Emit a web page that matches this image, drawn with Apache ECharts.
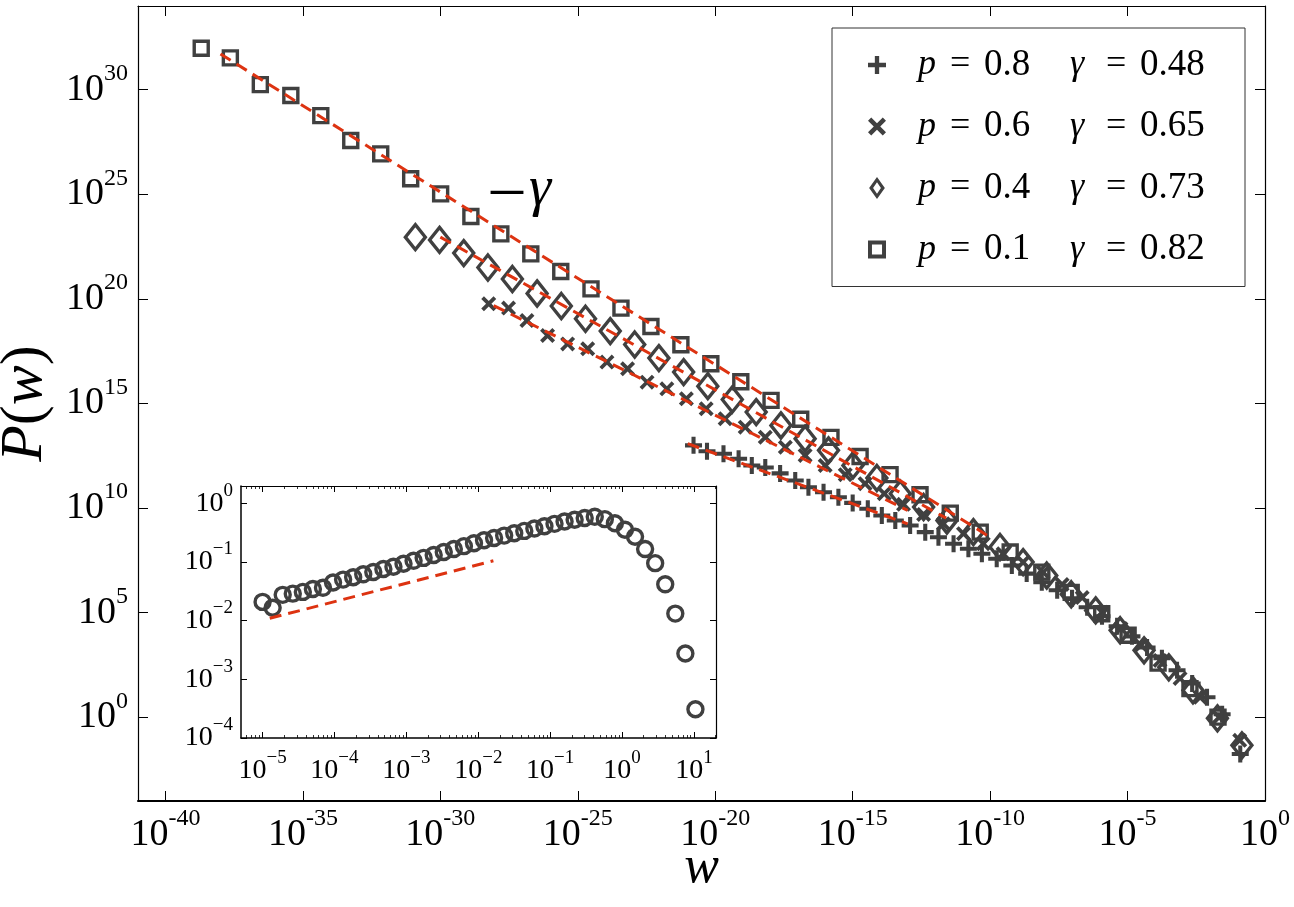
<!DOCTYPE html>
<html><head><meta charset="utf-8">
<script src="https://cdn.jsdelivr.net/npm/echarts@6/dist/echarts.min.js"></script>
<style>html,body{margin:0;padding:0;background:#fff}#c{width:1294px;height:907px}</style>
</head><body><div id="c"></div>
<script>
// ---- data (log10 of w and of P(w)) ----
const seriesNames = ['p = 0.8  γ = 0.48', 'p = 0.6  γ = 0.65', 'p = 0.4  γ = 0.73', 'p = 0.1  γ = 0.82'];
const pLabels = ['0.8', '0.6', '0.4', '0.1'];
const gammaLabels = ['0.48', '0.65', '0.73', '0.82'];

const p08_logW = [-20.79,-20.30,-19.70,-19.15,-18.67,-18.18,-17.64,-17.09,-16.61,-16.06,-15.52,-15.00,-14.45,-13.94,-13.45,-12.91,-12.36,-11.88,-11.33,-10.79,-10.30,-9.76,-9.21,-8.67,-8.12,-7.56,-7.02,-6.47,-5.93,-5.38,-4.84,-4.29,-3.75,-3.20,-2.65,-2.11,-1.56,-0.90];
const p08_logP = [13.00,12.72,12.60,12.36,12.04,11.94,11.66,11.32,11.00,10.76,10.52,10.25,9.97,9.65,9.41,9.17,8.85,8.61,8.30,8.06,7.82,7.58,7.26,6.87,6.46,6.07,5.69,5.26,4.83,4.35,3.87,3.34,2.82,2.25,1.62,0.96,0.15,-1.75];

const p06_logW = [-28.24,-27.52,-26.85,-26.10,-25.37,-24.64,-23.94,-23.19,-22.48,-21.76,-21.05,-20.33,-19.64,-18.91,-18.18,-17.45,-16.73,-16.00,-15.27,-14.55,-13.85,-13.15,-12.42,-11.70,-10.97,-10.25,-9.53,-8.80,-8.07,-7.38,-6.65,-5.93,-5.24,-4.51,-3.82,-3.09,-2.36,-1.67,-0.92];
const p06_logP = [19.77,19.56,18.97,18.25,17.85,17.62,16.98,16.66,16.02,15.70,15.23,14.75,14.27,13.87,13.39,12.91,12.52,12.04,11.60,11.17,10.69,10.18,9.70,9.25,8.78,8.30,7.82,7.41,6.93,6.35,5.73,5.02,4.25,3.44,2.72,1.86,0.96,0.00,-1.10];

const p04_logW = [-30.91,-30.03,-29.15,-28.27,-27.38,-26.48,-25.60,-24.72,-23.82,-22.93,-22.05,-21.15,-20.27,-19.38,-18.51,-17.61,-16.73,-15.88,-14.99,-14.12,-13.27,-12.42,-11.57,-10.61,-9.64,-8.80,-7.94,-7.05,-6.16,-5.27,-4.40,-3.50,-2.62,-1.73,-0.84];
const p04_logP = [22.95,22.82,22.19,21.50,20.95,20.26,19.66,19.05,18.46,17.82,17.17,16.50,15.83,15.19,14.59,13.95,13.32,12.76,12.04,11.44,10.69,10.05,9.41,8.85,8.14,7.42,6.78,5.88,5.11,4.16,3.20,2.39,1.29,-0.05,-1.34];

const p01_logW = [-38.70,-37.64,-36.55,-35.44,-34.35,-33.26,-32.17,-31.08,-29.99,-28.89,-27.80,-26.71,-25.62,-24.52,-23.43,-22.34,-21.25,-20.16,-19.07,-17.97,-16.89,-15.79,-14.73,-13.64,-12.55,-11.45,-10.36,-9.27,-8.12,-7.05,-5.94,-4.98,-3.89,-2.73,-1.71];
const p01_logP = [31.98,31.52,30.24,29.72,28.76,27.57,26.93,25.74,25.02,23.94,23.11,22.15,21.31,20.48,19.56,18.68,17.81,16.90,16.04,15.15,14.25,13.38,12.47,11.60,10.64,9.76,8.85,7.90,6.94,5.97,4.95,3.92,2.59,1.37,0.01];

// power-law fits (endpoints, log10 units)
const fit08_logW = [-21.0, -13.0];  const fit08_logP = [13.08, 9.25];
const fit06_logW = [-28.06, -13.0]; const fit06_logP = [19.68, 9.89];
const fit04_logW = [-30.0, -11.6];  const fit04_logP = [22.95, 9.52];
const fit01_logW = [-38.0, -10.0];  const fit01_logP = [31.71, 8.61];

// inset
const inset_logW = [-5.00,-4.86,-4.72,-4.58,-4.44,-4.30,-4.16,-4.02,-3.88,-3.74,-3.60,-3.46,-3.32,-3.18,-3.04,-2.90,-2.76,-2.62,-2.48,-2.34,-2.20,-2.06,-1.92,-1.78,-1.64,-1.50,-1.36,-1.22,-1.08,-0.94,-0.80,-0.66,-0.52,-0.38,-0.24,-0.10,0.04,0.18,0.32,0.46,0.60,0.74,0.88,1.02];
const inset_logP = [-1.68,-1.78,-1.56,-1.54,-1.51,-1.46,-1.44,-1.35,-1.30,-1.26,-1.21,-1.17,-1.12,-1.08,-1.03,-0.98,-0.93,-0.88,-0.83,-0.78,-0.73,-0.68,-0.63,-0.59,-0.55,-0.51,-0.47,-0.43,-0.39,-0.35,-0.31,-0.28,-0.25,-0.23,-0.27,-0.34,-0.45,-0.57,-0.78,-1.02,-1.38,-1.88,-2.56,-3.51];
const insetFit_logW = [-4.90, -1.79];
const insetFit_logP = [-1.96, -0.98];

// tick exponents
const mainXTicks = [-40,-35,-30,-25,-20,-15,-10,-5,0];
const mainYTicks = [0,5,10,15,20,25,30];
const insetXTicks = [-5,-4,-3,-2,-1,0,1];
const insetYTicks = [-4,-3,-2,-1,0];

// ---- rendering ----
const FONT = 'Liberation Serif';
const MARK = '#404040';
const RED = '#dd3311';
const zip = (a, b) => a.map((v, i) => [v, b[i]]);
const minorLog = [];
for (let d = -6; d <= 1; d++) for (let m = 2; m <= 9; m++) minorLog.push(d + Math.log10(m));

const PLUS = 'path://M3.8,0H6.2V3.8H10V6.2H6.2V10H3.8V6.2H0V3.8H3.8Z';
const CROSS = 'path://M0,1.8L1.8,0L5,3.2L8.2,0L10,1.8L6.8,5L10,8.2L8.2,10L5,6.8L1.8,10L0,8.2L3.2,5Z';
const DIAM = 'path://M5,0L10,7L5,14L0,7Z M5,3.4L2.5,7L5,10.6L7.5,7Z';
const SQR = 'path://M0,0H10V10H0Z M2.2,2.2V7.8H7.8V2.2Z';

const supMain = v => '{b|10}{s|' + v + '}';
const supInset = v => '{b|10}{s|' + (v < 0 ? '\u2212' + (-v) : v) + '}';
const richMain = {
  b: {fontFamily: FONT, fontSize: 38, lineHeight: 56, color: '#000', verticalAlign: 'middle'},
  s: {fontFamily: FONT, fontSize: 24, lineHeight: 22, color: '#000', verticalAlign: 'top'}
};
const richInset = {
  b: {fontFamily: FONT, fontSize: 28, lineHeight: 44, color: '#000', verticalAlign: 'middle'},
  s: {fontFamily: FONT, fontSize: 19, lineHeight: 16, color: '#000', verticalAlign: 'top'}
};
const lineBlack = w => ({show: true, onZero: false, lineStyle: {color: '#000', width: w}});

function tickOnlyAxis(gridIndex, pos, min, max, values, len) {
  return {
    type: 'value', gridIndex, position: pos, min, max,
    axisLine: lineBlack(1.2),
    axisTick: {show: true, inside: true, length: len, customValues: values, lineStyle: {color: '#000', width: 1}},
    axisLabel: {show: false}, splitLine: {show: false}
  };
}
function minorAxis(gridIndex, pos, min, max) {
  return {
    type: 'value', gridIndex, position: pos, min, max,
    axisLine: {show: false, onZero: false},
    axisTick: {show: true, inside: true, length: 3, customValues: minorLog.filter(v => v > min && v < max), lineStyle: {color: '#000', width: 0.8}},
    axisLabel: {show: false}, splitLine: {show: false}
  };
}

const chart = echarts.init(document.getElementById('c'), null, {renderer: 'canvas'});
const option = {
  animation: false,
  backgroundColor: '#fff',
  grid: [
    {left: 138, right: 29, top: 6, bottom: 106, outerBoundsMode: 'none', containLabel: false},
    {left: 241, top: 486, width: 475, height: 252, outerBoundsMode: 'none', containLabel: false,
      show: true, backgroundColor: '#fff', borderWidth: 0}
  ],
  xAxis: [
    {
      type: 'value', gridIndex: 0, position: 'bottom', min: -41, max: 0,
      name: 'w', nameLocation: 'middle', nameGap: 41, nameMoveOverlap: false,
      nameTextStyle: {fontFamily: FONT, fontStyle: 'italic', fontSize: 52, color: '#000'},
      axisLine: lineBlack(2),
      axisTick: {show: true, inside: true, length: 10, customValues: mainXTicks, lineStyle: {color: '#000', width: 1}},
      axisLabel: {customValues: mainXTicks, margin: 6, formatter: supMain, rich: richMain},
      splitLine: {show: false}
    },
    tickOnlyAxis(0, 'top', -41, 0, mainXTicks, 10),
    {
      type: 'value', gridIndex: 1, position: 'bottom', min: -5.3, max: 1.306,
      axisLine: lineBlack(1.5),
      axisTick: {show: true, inside: true, length: 6, customValues: insetXTicks, lineStyle: {color: '#000', width: 1}},
      axisLabel: {customValues: insetXTicks, margin: 11, formatter: supInset, rich: richInset},
      splitLine: {show: false}
    },
    tickOnlyAxis(1, 'top', -5.3, 1.306, insetXTicks, 6),
    minorAxis(1, 'bottom', -5.3, 1.306),
    minorAxis(1, 'top', -5.3, 1.306)
  ],
  yAxis: [
    {
      type: 'value', gridIndex: 0, position: 'left', min: -4, max: 34,
      name: '{i|P}{r|(}{i|w}{r|)}', nameLocation: 'middle', nameGap: 78, nameRotate: 90,
      nameTextStyle: {rich: {
        i: {fontFamily: FONT, fontStyle: 'italic', fontSize: 60, color: '#000'},
        r: {fontFamily: FONT, fontSize: 60, color: '#000'}
      }},
      axisLine: lineBlack(1.2),
      axisTick: {show: true, inside: true, length: 10, customValues: mainYTicks, lineStyle: {color: '#000', width: 1}},
      axisLabel: {customValues: mainYTicks, margin: 10, formatter: supMain, rich: richMain},
      splitLine: {show: false}
    },
    tickOnlyAxis(0, 'right', -4, 34, mainYTicks, 10),
    {
      type: 'value', gridIndex: 1, position: 'left', min: -4, max: 0.295,
      axisLine: lineBlack(1.5),
      axisTick: {show: true, inside: true, length: 6, customValues: insetYTicks, lineStyle: {color: '#000', width: 1}},
      axisLabel: {customValues: insetYTicks, margin: 8, formatter: supInset, rich: richInset},
      splitLine: {show: false}
    },
    tickOnlyAxis(1, 'right', -4, 0.295, insetYTicks, 6)
  ],
  legend: {
    orient: 'vertical', left: 832, top: 28,
    padding: [17, 25, 17, 36], itemGap: 21.5, itemWidth: 18, itemHeight: 22,
    borderColor: '#333', borderWidth: 1, backgroundColor: '#fff',
    itemStyle: {color: MARK, borderWidth: 0, opacity: 1},
    data: [
      {name: seriesNames[0], icon: PLUS},
      {name: seriesNames[1], icon: CROSS},
      {name: seriesNames[2], icon: DIAM},
      {name: seriesNames[3], icon: SQR}
    ],
    formatter: name => {
      const i = seriesNames.indexOf(name);
      return '{s|}{p|p}{e|=}{n|' + pLabels[i] + '}{g|γ}{e|=}{n2|' + gammaLabels[i] + '}';
    },
    textStyle: {
      fontFamily: FONT, fontSize: 36, lineHeight: 40, color: '#000',
      rich: {
        s: {width: 27},
        p: {fontFamily: FONT, fontStyle: 'italic', fontSize: 36, width: 32},
        e: {fontFamily: FONT, fontSize: 36, width: 34},
        n: {fontFamily: FONT, fontSize: 37, width: 86},
        g: {fontFamily: FONT, fontStyle: 'italic', fontSize: 36, width: 36},
        n2: {fontFamily: FONT, fontSize: 37, width: 80}
      }
    }
  },
  graphic: [{
    type: 'text', left: 491, top: 158, z: 10,
    style: {
      text: '{m|\u2013}{g|γ}',
      rich: {
        m: {fontFamily: FONT, fontSize: 64, fill: '#000', padding: [0, 6, 0, 0]},
        g: {fontFamily: FONT, fontStyle: 'italic', fontSize: 56, fill: '#000'}
      }
    }
  }],
  series: [
    {name: seriesNames[0], type: 'scatter', xAxisIndex: 0, yAxisIndex: 0, data: zip(p08_logW, p08_logP),
      symbol: PLUS, symbolSize: 17, itemStyle: {color: MARK, opacity: 1}, z: 2},
    {name: seriesNames[1], type: 'scatter', xAxisIndex: 0, yAxisIndex: 0, data: zip(p06_logW, p06_logP),
      symbol: CROSS, symbolSize: 15, itemStyle: {color: MARK, opacity: 1}, z: 2},
    {name: seriesNames[2], type: 'scatter', xAxisIndex: 0, yAxisIndex: 0, data: zip(p04_logW, p04_logP),
      symbol: 'diamond', symbolSize: [20, 25], itemStyle: {color: 'rgba(0,0,0,0)', borderColor: MARK, borderWidth: 3.4, opacity: 1}, z: 2},
    {name: seriesNames[3], type: 'scatter', xAxisIndex: 0, yAxisIndex: 0, data: zip(p01_logW, p01_logP),
      symbol: 'rect', symbolSize: 14, itemStyle: {color: 'rgba(0,0,0,0)', borderColor: MARK, borderWidth: 3.4, opacity: 1}, z: 2},
    ...[[fit08_logW, fit08_logP], [fit06_logW, fit06_logP], [fit04_logW, fit04_logP], [fit01_logW, fit01_logP]].map(f => ({
      type: 'line', xAxisIndex: 0, yAxisIndex: 0, data: zip(f[0], f[1]), symbol: 'none', silent: true,
      lineStyle: {color: RED, width: 3, type: [12, 7]}, z: 3
    })),
    {type: 'scatter', xAxisIndex: 2, yAxisIndex: 2, data: zip(inset_logW, inset_logP),
      symbol: 'circle', symbolSize: 15, itemStyle: {color: 'rgba(0,0,0,0)', borderColor: MARK, borderWidth: 3.4, opacity: 1}, z: 6},
    {type: 'line', xAxisIndex: 2, yAxisIndex: 2, data: zip(insetFit_logW, insetFit_logP), symbol: 'none', silent: true,
      lineStyle: {color: RED, width: 3, type: [12, 7]}, z: 7}
  ]
};
chart.setOption(option);
</script></body></html>
